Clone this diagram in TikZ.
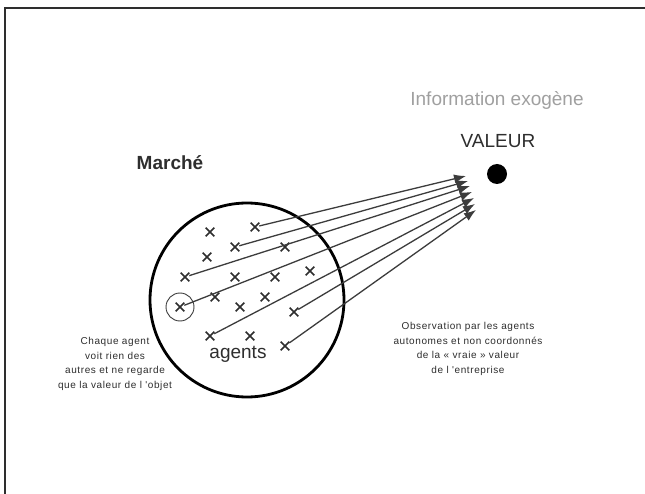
\documentclass[tikz,border=0pt]{standalone}
\usepackage{fontspec}
\setmainfont{Liberation Sans}
\newfontfamily\spaced[LetterSpace=6]{Liberation Sans}
\usetikzlibrary{arrows.meta,shapes.misc}
\definecolor{ink}{HTML}{2E2E2E}
\definecolor{lineg}{HTML}{3C3C3C}
\definecolor{lightg}{HTML}{A0A0A0}
\tikzset{
  agent/.style={cross out,draw=ink,line width=1.6pt,minimum size=7pt,inner sep=0pt},
  obs/.style={draw=lineg,line width=1.3pt,-{Latex[length=12pt,width=9pt]}},
  small/.style={font=\spaced\fontsize{10}{14.5}\selectfont,align=center,text=ink}
}
\begin{document}
\begin{tikzpicture}[x=1pt,y=-1pt]
\useasboundingbox (0,0) rectangle (645,494);
\fill[white] (0,0) rectangle (645,494);
% frame
\draw[ink,line width=1.5pt] (5,494) -- (5,8) -- (645,8);
% market circle
\draw[black,line width=2.8pt] (247,300) circle (97);
\node[font=\bfseries\fontsize{19}{21}\selectfont,text=ink] (marche) at (170,163) {Marché};
\node[font=\fontsize{19}{21}\selectfont,text=ink] (agentslbl) at (238,354) {agents};
% agents
\node[agent] (a1) at (210,232) {};
\node[agent] (a2) at (255,227) {};
\node[agent] (a3) at (235,247) {};
\node[agent] (a4) at (285,247) {};
\node[agent] (a5) at (207,257) {};
\node[agent] (a6) at (185,277) {};
\node[agent] (a7) at (235,277) {};
\node[agent] (a8) at (275,277) {};
\node[agent] (a9) at (310,271) {};
\node[agent] (a10) at (215,297) {};
\node[agent] (a11) at (265,297) {};
\node[agent] (a12) at (180,307) {};
\node[agent] (a13) at (240,307) {};
\node[agent] (a14) at (294,312) {};
\node[agent] (a15) at (210,336) {};
\node[agent] (a16) at (250,336) {};
\node[agent] (a17) at (285,346) {};
\draw[lineg,line width=0.9pt] (a12) circle (14);
% value
\node[font=\fontsize{19}{21}\selectfont,text=lightg] (info) at (497,100) {Information exogène};
\node[font=\fontsize{19}{21}\selectfont,text=ink] (valeur) at (498,141) {VALEUR};
\node[circle,fill=black,minimum size=20pt,inner sep=0pt] (dot) at (497,174) {};
% arrow ends
\coordinate (t1) at (466,176);
\coordinate (t2) at (468,181);
\coordinate (t3) at (470,186);
\coordinate (t4) at (472,192);
\coordinate (t5) at (474,198);
\coordinate (t6) at (475,204);
\coordinate (t7) at (476,210);
\draw[obs] (a2) -- (t1);
\draw[obs] (a3) -- (t2);
\draw[obs] (a6) -- (t3);
\draw[obs] (a12) -- (t4);
\draw[obs] (a15) -- (t5);
\draw[obs] (a14) -- (t6);
\draw[obs] (a17) -- (t7);
% texts
\node[small] (left) at (115,364) {Chaque agent\\voit rien des\\autres et ne regarde\\que la valeur de l 'objet};
\node[small] (right) at (468,349) {Observation par les agents\\autonomes et non coordonnés\\de la « vraie » valeur\\de l 'entreprise};
\end{tikzpicture}
\end{document}
